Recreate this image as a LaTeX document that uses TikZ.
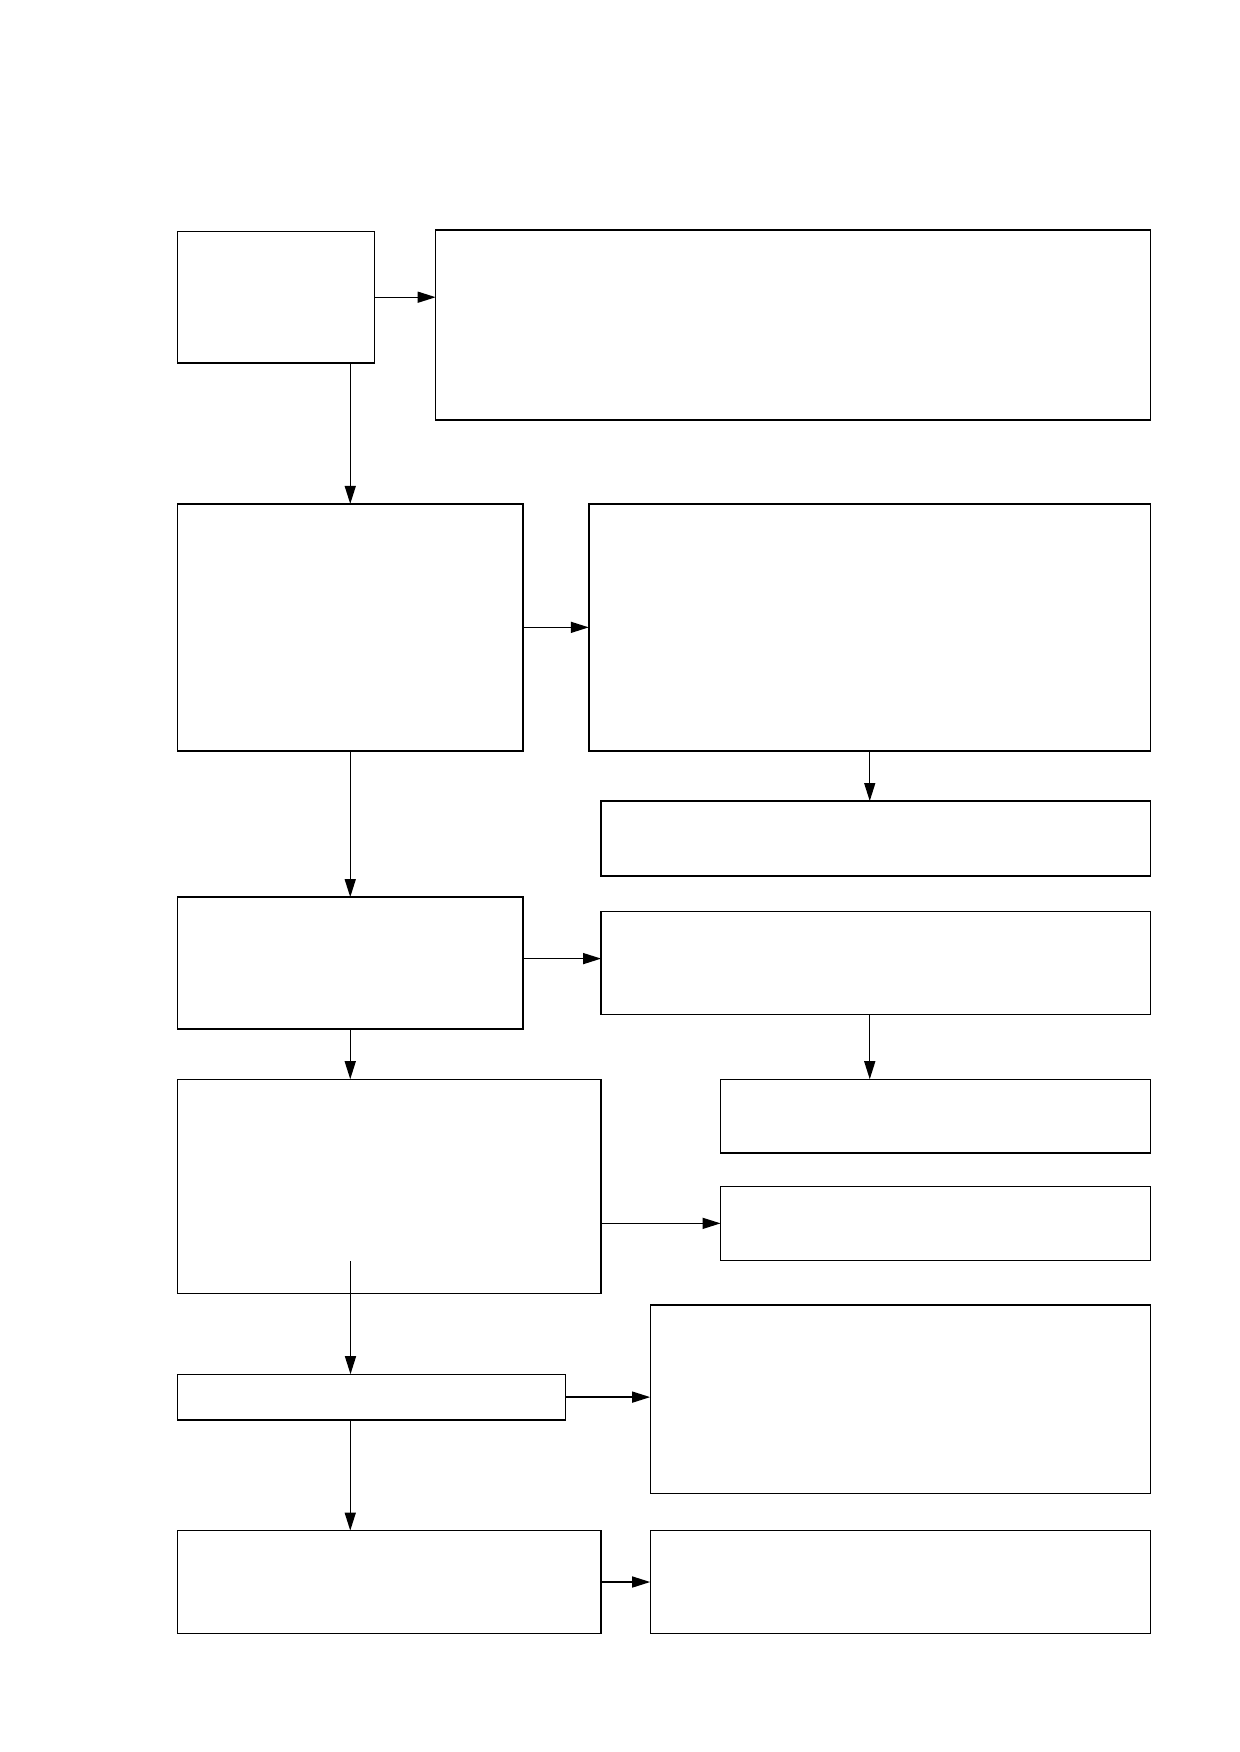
\documentclass[tikz,border=0pt]{standalone}
\usetikzlibrary{arrows.meta,fit,calc}
\begin{document}
\begin{tikzpicture}[x=0.5pt,y=-0.5pt,
  box/.style={draw=black,line width=0.7pt,inner sep=0pt,outer sep=0pt,fill=white},
  conn/.style={draw=black,line width=0.7pt,-{Triangle[length=9pt,width=5.5pt]}}]
\useasboundingbox[fill=white] (0,0) rectangle (1239,1752);
\node[box,fit={(177.6,231.3) (374.3,363.1)}] (A) {};
\node[box,fit={(435.7,230.1) (1150.7,420.1)}] (B) {};
\node[box,fit={(177.6,503.9) (522.9,750.8)}] (C) {};
\node[box,fit={(588.8,503.9) (1150.7,750.8)}] (D) {};
\node[box,fit={(601.1,801.0) (1150.7,875.9)}] (E) {};
\node[box,fit={(177.6,897.1) (522.9,1028.9)}] (F) {};
\node[box,fit={(601.1,911.6) (1150.7,1014.4)}] (G) {};
\node[box,fit={(720.6,1079.2) (1150.7,1153.0)}] (H) {};
\node[box,fit={(177.6,1079.2) (601.1,1293.7)}] (I) {};
\node[box,fit={(720.6,1186.5) (1150.7,1260.2)}] (J) {};
\node[box,fit={(177.6,1374.2) (565.3,1420.0)}] (K) {};
\node[box,fit={(650.2,1304.9) (1150.7,1493.7)}] (L) {};
\node[box,fit={(177.6,1530.6) (601.1,1633.4)}] (M) {};
\node[box,fit={(650.2,1530.6) (1150.7,1633.4)}] (N) {};
\coordinate (fg) at (522.9,958.6);
\coordinate (ik) at (350.5,1261.3);
\draw[conn] (A.east) -- (A.east -| B.west);
\draw[conn] (C.north |- A.south) -- (C.north);
\draw[conn] (C.east) -- (C.east -| D.west);
\draw[conn] (D.south) -- (D.south |- E.north);
\draw[conn] (C.south) -- (C.south |- F.north);
\draw[conn] (fg) -- (fg -| G.west);
\draw[conn] (G.south -| D.south) -- (H.north -| D.south);
\draw[conn] (F.south) -- (F.south |- I.north);
\draw[conn] (J.west -| I.east) -- (J.west);
\draw[conn] (ik) -- (ik |- K.north);
\draw[conn] (K.east) -- (K.east -| L.west);
\draw[conn] (K.south -| C.south) -- (M.north -| C.south);
\draw[conn] (M.east) -- (N.west);
\end{tikzpicture}
\end{document}
